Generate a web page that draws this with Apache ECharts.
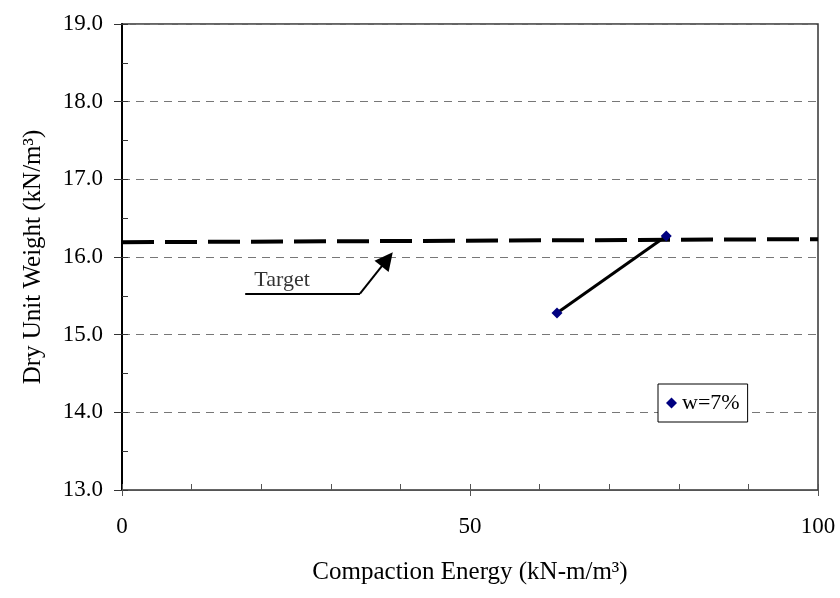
<!DOCTYPE html>
<html>
<head>
<meta charset="utf-8">
<script src="https://cdn.jsdelivr.net/npm/echarts@6/dist/echarts.min.js"></script>
<style>
  html, body { margin: 0; padding: 0; background: #fff; }
  #chart { width: 840px; height: 598px; }
</style>
</head>
<body>
<div id="chart"></div>
<script>
// Measured compaction results (energy, dry unit weight)
const seriesName = 'w=7%';
const energy = [62.5, 78.2];
const dryUnitWeight = [15.28, 16.27];

// Target dry unit weight line
const targetX = [0, 100];
const targetY = [16.19, 16.23];

// "Target" callout: leader line (elbow) and arrow segment, plus its label
const calloutLeader = [[17.7, 15.53], [34.2, 15.53]];
const calloutArrow = [[34.2, 15.53], [38.1, 15.97]];
const calloutLabel = 'Target';
const calloutLabelAt = [23.0, 15.70];

// Axis ranges and tick steps
const xRange = [0, 100];
const xMajor = 50;
const xMinor = 10;
const yRange = [13, 19];
const yMajor = 1;
const yMinor = 0.5;

const FONT = '"Liberation Serif", "Times New Roman", serif';

const chart = echarts.init(document.getElementById('chart'), null, { renderer: 'canvas' });

const option = {
  animation: false,
  backgroundColor: '#fff',
  textStyle: { fontFamily: FONT },
  grid: { left: 122, right: 22, top: 24, bottom: 108, show: true,
    borderColor: '#333', borderWidth: 1.5, backgroundColor: 'transparent' },
  legend: {
    data: [seriesName],
    left: 658, top: 384,
    orient: 'vertical',
    icon: 'diamond',
    itemWidth: 11, itemHeight: 11, itemGap: 0,
    padding: [8, 8, 8, 8],
    borderColor: '#000', borderWidth: 1,
    backgroundColor: '#fff',
    textStyle: { fontFamily: FONT, fontSize: 22, color: '#000' }
  },
  xAxis: [
    {
      type: 'value', min: xRange[0], max: xRange[1], interval: xMajor,
      name: 'Compaction Energy (kN-m/m³)', nameLocation: 'middle', nameGap: 70,
      nameTextStyle: { fontFamily: FONT, fontSize: 25, color: '#000' },
      axisLine: { show: true, onZero: false, lineStyle: { color: '#555', width: 1.2 } },
      axisTick: { show: true, inside: false, length: 6, lineStyle: { color: '#555' } },
      axisLabel: { fontFamily: FONT, fontSize: 23, color: '#000', margin: 25 },
      splitLine: { show: false }
    },
    {
      type: 'value', min: xRange[0], max: xRange[1], interval: xMinor,
      position: 'bottom', gridIndex: 0,
      axisLine: { show: false },
      axisTick: { show: true, inside: true, length: 6, lineStyle: { color: '#555' } },
      axisLabel: { show: false },
      splitLine: { show: false }
    }
  ],
  yAxis: [
    {
      type: 'value', min: yRange[0], max: yRange[1], interval: yMajor,
      name: 'Dry Unit Weight (kN/m³)', nameLocation: 'middle', nameGap: 76,
      nameTextStyle: { fontFamily: FONT, fontSize: 25, color: '#000' },
      axisLine: { show: true, onZero: false, lineStyle: { color: '#000', width: 2 } },
      axisTick: { show: true, inside: false, length: 8, lineStyle: { color: '#333' } },
      axisLabel: { fontFamily: FONT, fontSize: 23, color: '#000', margin: 19,
        formatter: v => v.toFixed(1) },
      splitLine: { show: true, lineStyle: { color: '#777', width: 1, type: [8, 6] } }
    },
    {
      type: 'value', min: yRange[0], max: yRange[1], interval: yMinor,
      position: 'left', gridIndex: 0,
      axisLine: { show: false },
      axisTick: { show: true, inside: true, length: 6, lineStyle: { color: '#333' } },
      axisLabel: { show: false },
      splitLine: { show: false }
    }
  ],
  series: [
    {
      name: 'target', type: 'line', silent: true,
      data: targetX.map((x, i) => [x, targetY[i]]),
      showSymbol: false, symbol: 'none',
      lineStyle: { color: '#000', width: 4, type: [32, 11] },
      z: 3
    },
    {
      name: 'calloutLeader', type: 'lines', coordinateSystem: 'cartesian2d',
      silent: true, symbol: 'none',
      data: [{ coords: calloutLeader }],
      lineStyle: { color: '#000', width: 2, opacity: 1, curveness: 0 },
      z: 4
    },
    {
      name: 'calloutArrow', type: 'lines', coordinateSystem: 'cartesian2d',
      silent: true, symbol: ['none', 'triangle'], symbolSize: [0, 18],
      data: [{ coords: calloutArrow }],
      itemStyle: { color: '#000' },
      lineStyle: { color: '#000', width: 2, opacity: 1, curveness: 0 },
      z: 4
    },
    {
      name: 'calloutText', type: 'scatter', silent: true,
      data: [calloutLabelAt], symbolSize: 0,
      label: { show: true, position: 'inside', formatter: calloutLabel,
        fontFamily: FONT, fontSize: 22, color: '#000' },
      z: 4
    },
    {
      name: seriesName, type: 'line',
      data: energy.map((x, i) => [x, dryUnitWeight[i]]),
      symbol: 'diamond', symbolSize: 11, showSymbol: true,
      itemStyle: { color: '#000080' },
      lineStyle: { color: '#000', width: 3 },
      z: 5
    }
  ]
};

chart.setOption(option);
</script>
</body>
</html>
